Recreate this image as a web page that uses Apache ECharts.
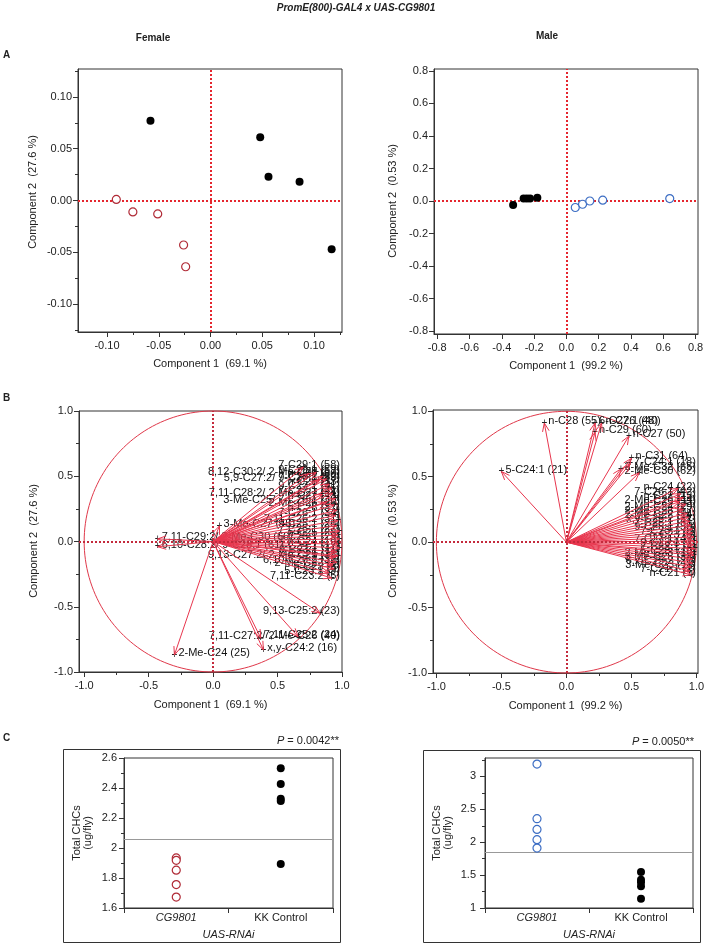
<!DOCTYPE html>
<html>
<head>
<meta charset="utf-8">
<title>PromE(800)-GAL4 x UAS-CG9801</title>
<script src="https://cdn.jsdelivr.net/npm/echarts@6/dist/echarts.min.js"></script>
<style>
  html, body { margin: 0; padding: 0; background: #fff; }
  #chart { width: 708px; height: 945px; }
</style>
</head>
<body>
<div id="chart"></div>
<script>
// ---- data ----
// A: PCA scores
var femaleControlScores = [[-0.058, 0.077], [0.048, 0.061], [0.056, 0.023], [0.086, 0.018], [0.117, -0.047]];
var femaleRnaiScores = [[-0.091, 0.001], [-0.075, -0.011], [-0.051, -0.013], [-0.026, -0.043], [-0.024, -0.064]];
var maleControlScores = [[-0.33, -0.025], [-0.265, 0.015], [-0.245, 0.015], [-0.225, 0.015], [-0.18, 0.02]];
var maleRnaiScores = [[0.055, -0.04], [0.10, -0.02], [0.145, 0.0], [0.225, 0.005], [0.64, 0.015]];

// B: loadings [x, y, label]
var femaleLoadings = [
    [-0.43, 0.02, '7,11-C29:2/ 2-Me-C30 (66)'],
    [-0.43, -0.04, '6,10-C28:2/ 9-C28:1 (61)'],
    [0.05, 0.12, '3-Me-C27 (45)'],
    [0.74, 0.52, '8,12-C30:2/ 2-Me-C28 (57)'],
    [0.70, 0.57, '7-C29:1 (58)'],
    [0.82, 0.47, '5,9-C27:2/ 9-C27:1 (39)'],
    [0.85, 0.36, '7,11-C28:2/ 2-Me-C27 (44)'],
    [0.88, 0.30, '3-Me-C25/ 7-C26:1 (30)'],
    [0.80, 0.53, '9-C29:1 (59)'],
    [0.85, 0.50, 'n-C29 (60)'],
    [0.88, 0.48, '7-C28:1 (52)'],
    [0.90, 0.44, 'n-C28 (53)'],
    [0.92, 0.41, '9-C27:1 (41)'],
    [0.93, 0.37, '7-C27:1 (42)'],
    [0.95, 0.33, 'n-C27 (43)'],
    [0.94, 0.28, '2-Me-C26 (36)'],
    [0.96, 0.24, 'n-C26 (37)'],
    [0.95, 0.20, '7-C26:1 (34)'],
    [0.97, 0.16, '7,11-C26:2 (31)'],
    [0.96, 0.12, '9-C25:1 (26)'],
    [0.98, 0.08, '7-C25:1 (27)'],
    [0.97, 0.05, 'n-C25 (28)'],
    [0.98, 0.02, '5-C25:1 (29)'],
    [0.97, -0.02, 'n-C24 (19)'],
    [0.98, -0.05, '7-C24:1 (17)'],
    [0.96, -0.08, '9-C23:1 (11)'],
    [0.97, -0.11, '7-C23:1 (12)'],
    [0.95, -0.12, '9,13-C27:2/ 2-Me-C25 (33)'],
    [0.96, -0.16, '6,10-C26:2 (32)'],
    [0.93, -0.18, '2-Me-C22 (8)'],
    [0.94, -0.21, 'n-C23 (6)'],
    [0.90, -0.24, '5-C23:1 (9)'],
    [0.92, -0.28, '7,11-C23:2 (5)'],
    [0.83, -0.55, '9,13-C25:2 (23)'],
    [0.66, -0.73, '7,11-C25:2 (24)'],
    [0.37, -0.74, '7,11-C27:2/ 2-Me-C26 (40)'],
    [0.39, -0.83, 'x,y-C24:2 (16)'],
    [-0.30, -0.87, '2-Me-C24 (25)']
];
var maleLoadings = [
    [-0.50, 0.54, '5-C24:1 (21)'],
    [-0.17, 0.91, 'n-C28 (55)'],
    [0.22, 0.91, '6-C27:1 (40)'],
    [0.27, 0.91, 'n-C26 (48)'],
    [0.22, 0.84, 'n-C29 (60)'],
    [0.48, 0.81, 'n-C27 (50)'],
    [0.50, 0.64, 'n-C31 (64)'],
    [0.49, 0.60, '7-C24:1 (18)'],
    [0.56, 0.53, '2-Me-C30 (62)'],
    [0.42, 0.56, '2-Me-C32 (65)'],
    [0.86, 0.41, 'n-C24 (22)'],
    [0.88, 0.37, '7-C26:1 (42)'],
    [0.90, 0.34, 'n-C22 (13)'],
    [0.87, 0.31, '2-Me-C26 (44)'],
    [0.92, 0.29, 'n-C25 (33)'],
    [0.90, 0.25, '2-Me-C24 (29)'],
    [0.93, 0.22, '2-Me-C28 (57)'],
    [0.94, 0.19, '2-Me-C22 (14)'],
    [0.95, 0.16, 'x,y-C25:2 (27)'],
    [0.96, 0.13, '7-C25:1 (31)'],
    [0.97, 0.10, '9-C25:1 (30)'],
    [0.97, 0.07, '7-C23:1 (8)'],
    [0.98, 0.04, 'n-C23 (6)'],
    [0.98, 0.01, '7-C27:1 (47)'],
    [0.98, -0.02, '9-C23:1 (7)'],
    [0.99, -0.05, '7-C22:1 (4)'],
    [0.98, -0.08, '5-C23:1 (9)'],
    [0.98, -0.10, '2-Me-C23 (10)'],
    [0.97, -0.13, '3-Me-C25 (34)'],
    [0.97, -0.16, '6,x-C25:2 (26)'],
    [0.96, -0.19, '3-Me-C23 (11)'],
    [0.95, -0.22, '7-C21:1 (2)'],
    [0.96, -0.25, 'n-C21 (1)']
];

// C: total CHCs (ug/fly)
var groups = ['CG9801', 'KK Control'];
var femaleRnaiTotal = [1.934, 1.918, 1.852, 1.756, 1.673];
var femaleControlTotal = [2.531, 2.426, 2.328, 2.313, 1.894];
var femaleMean = 2.061;
var maleRnaiTotal = [3.187, 2.357, 2.195, 2.038, 1.911];
var maleControlTotal = [1.547, 1.430, 1.390, 1.329, 1.142];
var maleMean = 1.846;

// ---- chart ----
var FONT = '"Liberation Sans", Arial, sans-serif';
var AXIS = '#333';
var chart = echarts.init(document.getElementById('chart'));

var xAxes = [], yAxes = [];

function addAxis(list, dim, gi, min, max, major, minor, digits, extra) {
    var main = {
        type: 'value', gridIndex: gi, min: min, max: max,
        position: dim === 'x' ? 'bottom' : 'left',
        axisLine: {show: true, onZero: false, lineStyle: {color: AXIS}},
        axisTick: {show: true, length: 5, customValues: major, lineStyle: {color: AXIS}},
        axisLabel: {
            customValues: major, fontSize: 11, color: '#222', margin: dim === 'x' ? 8 : 6,
            formatter: function (v) { return digits == null ? String(+v.toFixed(2)) : v.toFixed(digits); }
        },
        splitLine: {show: false}
    };
    if (extra) Object.assign(main, extra);
    list.push(main);
    var idx = list.length - 1;
    if (minor && minor.length) {
        list.push({
            type: 'value', gridIndex: gi, min: min, max: max,
            position: dim === 'x' ? 'bottom' : 'left',
            axisLine: {show: false, onZero: false},
            axisTick: {show: true, length: 3, customValues: minor, lineStyle: {color: AXIS}},
            axisLabel: {show: false},
            splitLine: {show: false}
        });
    }
    return idx;
}

var grids = [
    {left: 78, top: 69, width: 264, height: 263},
    {left: 434, top: 69, width: 264, height: 265},
    {left: 79, top: 411, width: 263, height: 261},
    {left: 433, top: 410, width: 265, height: 263},
    {left: 124, top: 758, width: 209, height: 150},
    {left: 485, top: 758, width: 208, height: 150}
];
grids.forEach(function (g) { g.show = true; g.borderColor = AXIS; g.borderWidth = 1; g.backgroundColor = 'transparent'; });

function xName(t, gap) {
    return {name: t, nameLocation: 'middle', nameGap: gap, nameTextStyle: {fontSize: 11, color: '#222'}};
}

// A axes
var ax0 = addAxis(xAxes, 'x', 0, -0.128, 0.127, [-0.1, -0.05, 0, 0.05, 0.1], [-0.075, -0.025, 0.025, 0.075, 0.125], 2, xName('Component 1  (69.1 %)', 26));
var ay0 = addAxis(yAxes, 'y', 0, -0.127, 0.127, [-0.1, -0.05, 0, 0.05, 0.1], [-0.125, -0.075, -0.025, 0.025, 0.075, 0.125], 2);
var ax1 = addAxis(xAxes, 'x', 1, -0.82, 0.815, [-0.8, -0.6, -0.4, -0.2, 0, 0.2, 0.4, 0.6, 0.8], null, 1, xName('Component 1  (99.2 %)', 26));
var ay1 = addAxis(yAxes, 'y', 1, -0.818, 0.812, [-0.8, -0.6, -0.4, -0.2, 0, 0.2, 0.4, 0.6, 0.8], null, 1);
// B axes
var ax2 = addAxis(xAxes, 'x', 2, -1.04, 1.0, [-1, -0.5, 0, 0.5, 1], [-0.75, -0.25, 0.25, 0.75], 1, xName('Component 1  (69.1 %)', 27));
var ay2 = addAxis(yAxes, 'y', 2, -1.0, 1.0, [-1, -0.5, 0, 0.5, 1], [-0.75, -0.25, 0.25, 0.75], 1);
var ax3 = addAxis(xAxes, 'x', 3, -1.026, 1.012, [-1, -0.5, 0, 0.5, 1], [-0.75, -0.25, 0.25, 0.75], 1, xName('Component 1  (99.2 %)', 27));
var ay3 = addAxis(yAxes, 'y', 3, -1.0, 1.01, [-1, -0.5, 0, 0.5, 1], [-0.75, -0.25, 0.25, 0.75], 1);
// C axes
function catAxis(gi) {
    xAxes.push({
        type: 'category', gridIndex: gi, data: groups, boundaryGap: true,
        axisLine: {show: true, lineStyle: {color: AXIS}},
        axisTick: {show: true, length: 5, lineStyle: {color: AXIS}},
        axisLabel: {
            fontSize: 11, color: '#222', margin: 4,
            formatter: function (v) { return v === 'CG9801' ? '{i|' + v + '}' : v; },
            rich: {i: {fontStyle: 'italic', fontSize: 11, color: '#222'}}
        },
        name: 'UAS-RNAi', nameLocation: 'middle', nameGap: 21,
        nameTextStyle: {fontSize: 11, color: '#222', fontStyle: 'italic'}
    });
    return xAxes.length - 1;
}
var ax4 = catAxis(4);
var ay4 = addAxis(yAxes, 'y', 4, 1.6, 2.6, [1.6, 1.8, 2, 2.2, 2.4, 2.6], [1.7, 1.9, 2.1, 2.3, 2.5], null, {axisLabel: {customValues: [1.6, 1.8, 2, 2.2, 2.4, 2.6], fontSize: 11, color: '#222', margin: 7}});
var ax5 = catAxis(5);
var ay5 = addAxis(yAxes, 'y', 5, 1, 3.28, [1, 1.5, 2, 2.5, 3], [1.25, 1.75, 2.25, 2.75, 3.25], null, {axisLabel: {customValues: [1, 1.5, 2, 2.5, 3], fontSize: 11, color: '#222', margin: 9}});

var zeroLinesA = {
    silent: true, symbol: 'none', label: {show: false},
    lineStyle: {color: '#e5262e', type: [2, 2], width: 2},
    emphasis: {disabled: true},
    data: [{xAxis: 0}, {yAxis: 0}]
};
var zeroLinesB = {
    silent: true, symbol: 'none', label: {show: false},
    lineStyle: {color: '#c42a3c', type: [2, 2], width: 2},
    emphasis: {disabled: true},
    data: [{xAxis: 0}, {yAxis: 0}]
};

function filled(xi, yi, data) {
    return {type: 'scatter', xAxisIndex: xi, yAxisIndex: yi, data: data, symbolSize: 8,
        itemStyle: {color: '#000', opacity: 1}, z: 5, silent: true};
}
function hollow(xi, yi, data, color) {
    return {type: 'scatter', xAxisIndex: xi, yAxisIndex: yi, data: data, symbolSize: 8,
        itemStyle: {color: '#fff', borderColor: color, borderWidth: 1.2, opacity: 1}, z: 5, silent: true};
}

// unit circle for loading plots
function circleSeries(xi, yi, mark) {
    return {
        type: 'custom', xAxisIndex: xi, yAxisIndex: yi, data: [[0, 0]], silent: true, z: 1,
        renderItem: function (p, api) {
            var pts = [];
            for (var a = 0; a <= 360; a += 2) {
                pts.push(api.coord([Math.cos(a * Math.PI / 180), Math.sin(a * Math.PI / 180)]));
            }
            return {type: 'polyline', shape: {points: pts}, style: {stroke: '#e0384a', fill: null, lineWidth: 1}};
        },
        markLine: mark
    };
}

var measureCtx = document.createElement('canvas').getContext('2d');
measureCtx.font = '11px ' + FONT;

function arrowSeries(xi, yi, list) {
    return {
        type: 'custom', xAxisIndex: xi, yAxisIndex: yi, silent: true, z: 4,
        data: list.map(function (d) { return [d[0], d[1]]; }),
        renderItem: function (p, api) {
            var o = api.coord([0, 0]);
            var t = api.coord([api.value(0), api.value(1)]);
            var ang = Math.atan2(t[1] - o[1], t[0] - o[0]);
            var L = 9, w = 0.38;
            var h1 = [t[0] - L * Math.cos(ang - w), t[1] - L * Math.sin(ang - w)];
            var h2 = [t[0] - L * Math.cos(ang + w), t[1] - L * Math.sin(ang + w)];
            return {type: 'group', children: [
                {type: 'line', shape: {x1: o[0], y1: o[1], x2: t[0], y2: t[1]}, style: {stroke: '#e8364e', lineWidth: 1}},
                {type: 'polyline', shape: {points: [h1, t, h2]}, style: {stroke: '#e8364e', lineWidth: 1, fill: null}}
            ]};
        }
    };
}

function labelSeries(xi, yi, list) {
    return {
        type: 'custom', xAxisIndex: xi, yAxisIndex: yi, silent: true, z: 3,
        data: list.map(function (d) { return [d[0], d[1]]; }),
        renderItem: function (p, api) {
            var t = api.coord([api.value(0), api.value(1)]);
            var name = list[p.dataIndex][2];
            var cs = p.coordSys;
            var right = cs.x + cs.width - 2;
            var w = measureCtx.measureText(name).width;
            var sx = t[0] + 4;
            if (sx + w > right) sx = right - w;
            return {type: 'group', children: [
                {type: 'text', style: {text: '+', x: t[0], y: t[1], align: 'center', verticalAlign: 'middle',
                    fill: '#222', fontSize: 10, fontFamily: FONT}},
                {type: 'text', style: {text: name, x: sx, y: t[1] - 2, align: 'left', verticalAlign: 'middle',
                    fill: '#111', fontSize: 11, fontFamily: FONT}}
            ]};
        }
    };
}

function stripData(values, cat) {
    return values.map(function (v) { return [cat, v]; });
}
function meanLine(v) {
    return {silent: true, symbol: 'none', label: {show: false}, emphasis: {disabled: true},
        lineStyle: {color: '#999', type: 'solid', width: 1}, data: [{yAxis: v}]};
}

var series = [];
// A female
var s = filled(ax0, ay0, femaleControlScores); s.markLine = zeroLinesA; series.push(s);
series.push(hollow(ax0, ay0, femaleRnaiScores, '#b02a36'));
// A male
s = filled(ax1, ay1, maleControlScores); s.markLine = zeroLinesA; series.push(s);
series.push(hollow(ax1, ay1, maleRnaiScores, '#3d6ec4'));
// B female / male
series.push(circleSeries(ax2, ay2, zeroLinesB));
series.push(labelSeries(ax2, ay2, femaleLoadings));
series.push(arrowSeries(ax2, ay2, femaleLoadings));
series.push(circleSeries(ax3, ay3, zeroLinesB));
series.push(labelSeries(ax3, ay3, maleLoadings));
series.push(arrowSeries(ax3, ay3, maleLoadings));
// C female
s = hollow(ax4, ay4, stripData(femaleRnaiTotal, groups[0]), '#b02a36'); s.markLine = meanLine(femaleMean); series.push(s);
series.push(filled(ax4, ay4, stripData(femaleControlTotal, groups[1])));
// C male
s = hollow(ax5, ay5, stripData(maleRnaiTotal, groups[0]), '#3d6ec4'); s.markLine = meanLine(maleMean); series.push(s);
series.push(filled(ax5, ay5, stripData(maleControlTotal, groups[1])));

function txt(x, y, text, style, rot) {
    var st = Object.assign({text: text, fontSize: 11, fontFamily: FONT, fill: '#222', align: 'center', verticalAlign: 'middle'}, style || {});
    var el = {type: 'text', x: x, y: y, style: st, silent: true};
    if (rot) el.rotation = rot;
    return el;
}
var R = Math.PI / 2;

var graphics = [
    txt(356, 8, 'PromE(800)-GAL4 x UAS-CG9801', {fontWeight: 'bold', fontStyle: 'italic', fontSize: 10}),
    txt(153, 38, 'Female', {fontWeight: 'bold', fontSize: 10}),
    txt(547, 36, 'Male', {fontWeight: 'bold', fontSize: 10}),
    txt(3, 55, 'A', {fontWeight: 'bold', fontSize: 10, align: 'left'}),
    txt(3, 398, 'B', {fontWeight: 'bold', fontSize: 10, align: 'left'}),
    txt(3, 738, 'C', {fontWeight: 'bold', fontSize: 10, align: 'left'}),
    txt(33, 192, 'Component 2  (27.6 %)', null, R),
    txt(393, 201, 'Component 2  (0.53 %)', null, R),
    txt(34, 541, 'Component 2  (27.6 %)', null, R),
    txt(393, 541, 'Component 2  (0.53 %)', null, R),
    txt(82, 833, 'Total CHCs\n(ug/fly)', {lineHeight: 11}, R),
    txt(442, 833, 'Total CHCs\n(ug/fly)', {lineHeight: 11}, R),
    txt(339, 741, '{i|P} = 0.0042**', {align: 'right', rich: {i: {fontStyle: 'italic', fontSize: 11, fontFamily: FONT, fill: '#222'}}}),
    txt(694, 742, '{i|P} = 0.0050**', {align: 'right', rich: {i: {fontStyle: 'italic', fontSize: 11, fontFamily: FONT, fill: '#222'}}}),
    {type: 'rect', shape: {x: 63.5, y: 749.5, width: 277, height: 193}, style: {stroke: '#333', fill: null, lineWidth: 1}, silent: true},
    {type: 'rect', shape: {x: 423.5, y: 750.5, width: 277, height: 192}, style: {stroke: '#333', fill: null, lineWidth: 1}, silent: true}
];

chart.setOption({
    animation: false,
    backgroundColor: '#fff',
    textStyle: {fontFamily: FONT},
    grid: grids,
    xAxis: xAxes,
    yAxis: yAxes,
    series: series,
    graphic: graphics
});
</script>
</body>
</html>
